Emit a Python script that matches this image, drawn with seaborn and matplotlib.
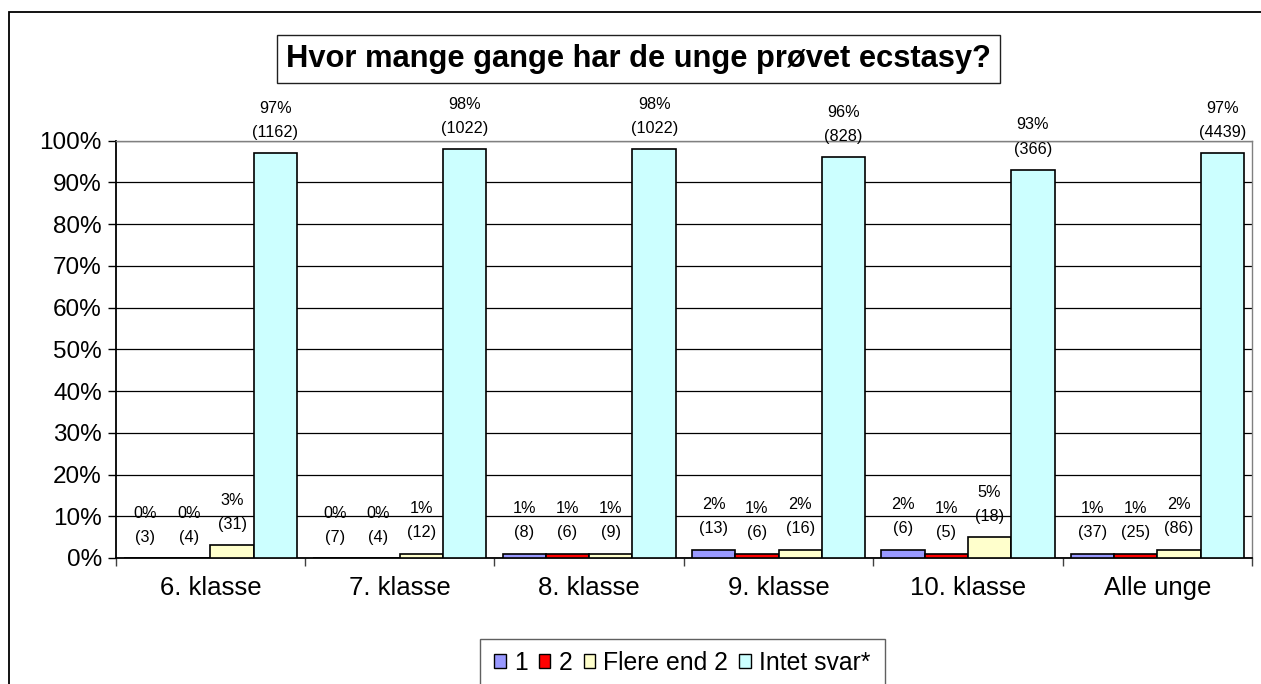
import matplotlib
matplotlib.use("Agg")
import matplotlib.pyplot as plt
from matplotlib.patches import Rectangle, Patch
from matplotlib.ticker import FixedLocator
import seaborn as sns
import pandas as pd

# ---- data ----
categories = ["6. klasse", "7. klasse", "8. klasse", "9. klasse", "10. klasse", "Alle unge"]
series = ["1", "2", "Flere end 2", "Intet svar*"]
pct_1 = [0, 0, 1, 2, 2, 1]
pct_2 = [0, 0, 1, 1, 1, 1]
pct_flere = [3, 1, 1, 2, 5, 2]
pct_intet = [97, 98, 98, 96, 93, 97]
n_1 = [3, 7, 8, 13, 6, 37]
n_2 = [4, 4, 6, 6, 5, 25]
n_flere = [31, 12, 9, 16, 18, 86]
n_intet = [1162, 1022, 1022, 828, 366, 4439]
y_ticks = [0, 10, 20, 30, 40, 50, 60, 70, 80, 90, 100]
title = "Hvor mange gange har de unge prøvet ecstasy?"
colors = ["#9999FF", "#FF0000", "#FFFFCC", "#CCFFFF"]

pcts = [pct_1, pct_2, pct_flere, pct_intet]
counts = [n_1, n_2, n_flere, n_intet]

rows = []
for s, pv, nv in zip(series, pcts, counts):
    for c, p, n in zip(categories, pv, nv):
        rows.append({"klasse": c, "svar": s, "pct": p, "n": n})
df = pd.DataFrame(rows)

sns.set_style("white")
plt.rcParams["font.family"] = ["Liberation Sans", "DejaVu Sans"]
plt.rcParams["text.color"] = "black"
plt.rcParams["xtick.color"] = "black"
plt.rcParams["ytick.color"] = "black"
plt.rcParams["xtick.labelcolor"] = "black"
plt.rcParams["ytick.labelcolor"] = "black"

W, H = 1261, 684
fig = plt.figure(figsize=(W / 100, H / 100), dpi=100)
ax_left, ax_right = 115.7 / W, 1252 / W
ax_bottom, ax_top = 1 - 558 / H, 1 - 140.7 / H
ax = fig.add_axes([ax_left, ax_bottom, ax_right - ax_left, ax_top - ax_bottom])

sns.barplot(data=df, x="klasse", y="pct", hue="svar", order=categories,
            hue_order=series, palette=colors, saturation=1, width=0.915,
            edgecolor="black", linewidth=1.2, legend=False, ax=ax, zorder=3)

ax.set_ylim(0, 100)
ax.set_xlim(-0.5, len(categories) - 0.5)
ax.set_yticks(y_ticks)
ax.set_yticklabels([f"{v}%" for v in y_ticks], fontsize=17.5)
ax.set_xlabel("")
ax.set_ylabel("")
ax.tick_params(axis="y", direction="out", length=6, width=1, color="black", pad=4, left=True)
ax.tick_params(axis="x", which="major", length=0, pad=13, labelsize=18.5)
ax.xaxis.set_minor_locator(FixedLocator([i - 0.5 for i in range(len(categories) + 1)]))
ax.tick_params(axis="x", which="minor", direction="out", length=6, width=1, color="#404040", bottom=True)

ax.grid(axis="y", color="black", linewidth=0.9, zorder=0)
ax.set_axisbelow(True)
for side in ["left", "bottom"]:
    ax.spines[side].set_color("black")
    ax.spines[side].set_linewidth(1.3)
for side in ["top", "right"]:
    ax.spines[side].set_color("#808080")
    ax.spines[side].set_linewidth(1.0)

# data labels
for ci, cont in enumerate(ax.containers):
    for bi, bar in enumerate(cont):
        xc = bar.get_x() + bar.get_width() / 2
        h = bar.get_height()
        ax.annotate(f"({counts[ci][bi]})", (xc, h), xytext=(0, 15),
                    textcoords="offset points", ha="center", va="center",
                    fontsize=11.7, zorder=5, annotation_clip=False)
        ax.annotate(f"{pcts[ci][bi]}%", (xc, h), xytext=(0, 32.4),
                    textcoords="offset points", ha="center", va="center",
                    fontsize=11.7, zorder=5, annotation_clip=False)

# title in box
fig.text(638.5 / W, 1 - 59 / H, title, ha="center", va="center",
         fontsize=22.2, fontweight="bold",
         bbox=dict(boxstyle="square,pad=0.28", facecolor="white",
                   edgecolor="#202020", linewidth=1.0))

# outer chart border (continues past right/bottom edges)
fig.patches.append(Rectangle((9 / W, -0.5), 2.0, 1.5 - 12 / H,
                             transform=fig.transFigure, fill=False,
                             edgecolor="black", linewidth=1.3, clip_on=False))

# legend box (continues past bottom edge)
fig.patches.append(Rectangle((480 / W, -0.2), (885 - 480) / W, 0.2 + 1 - 639 / H,
                             transform=fig.transFigure, fill=False,
                             edgecolor="#606060", linewidth=1.0, clip_on=False))
handles = [Patch(facecolor=c, edgecolor="black", linewidth=1.0) for c in colors]
fig.legend(handles, series, loc="center", bbox_to_anchor=(682.5 / W, 1 - 663 / H),
           ncol=4, frameon=False, fontsize=17.8, handlelength=0.45, handleheight=0.5,
           handletextpad=0.35, columnspacing=0.45, borderpad=0.2)

fig.savefig("out.png", dpi=100)
